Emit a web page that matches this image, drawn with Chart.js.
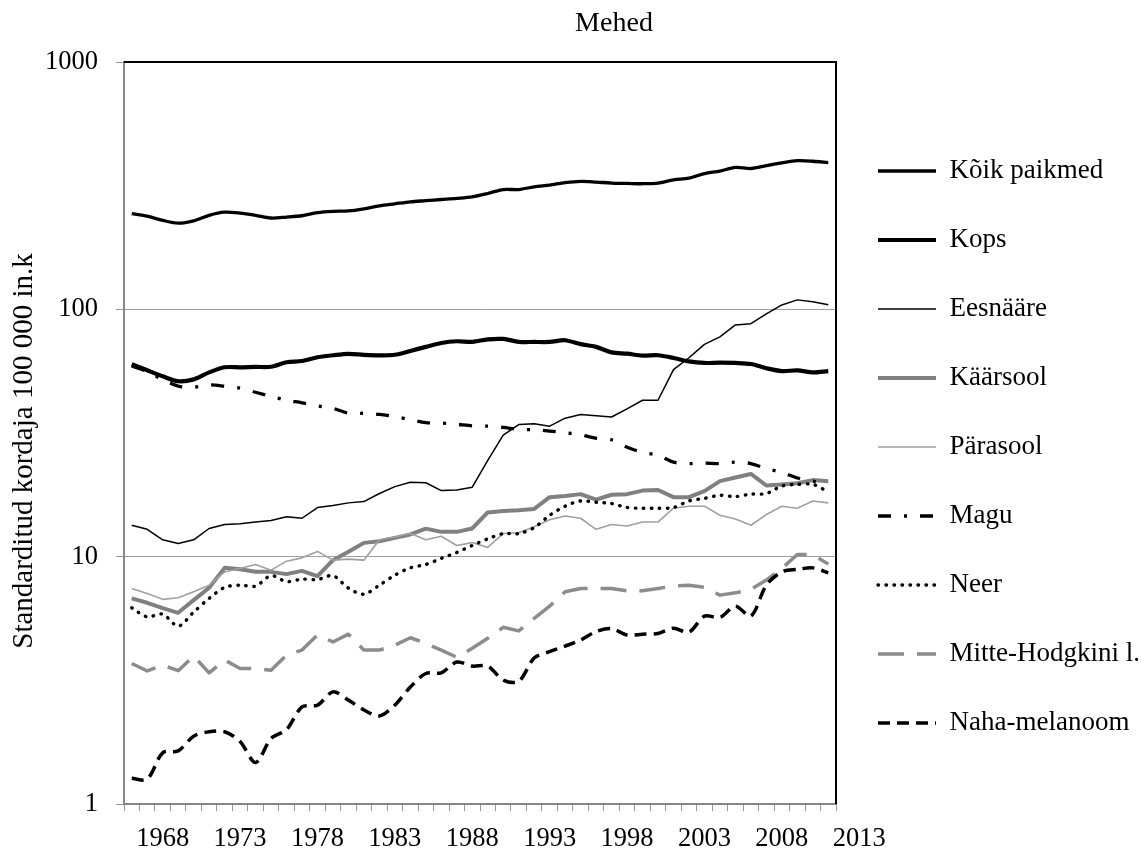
<!DOCTYPE html>
<html>
<head>
<meta charset="utf-8">
<title>Mehed</title>
<script src="https://cdn.jsdelivr.net/npm/chart.js@4/dist/chart.umd.min.js"></script>
<style>
  html, body { margin: 0; padding: 0; background: #fff; }
  canvas { display: block; }
</style>
</head>
<body>
<canvas id="cancer_chart_canvas" width="1144" height="854"></canvas>
<script>
const TITLE = 'Mehed'
const Y_TITLE = 'Standarditud kordaja 100 000 in.k'

const years = [1966, 1967, 1968, 1969, 1970, 1971, 1972, 1973, 1974, 1975,
  1976, 1977, 1978, 1979, 1980, 1981, 1982, 1983, 1984, 1985,
  1986, 1987, 1988, 1989, 1990, 1991, 1992, 1993, 1994, 1995,
  1996, 1997, 1998, 1999, 2000, 2001, 2002, 2003, 2004, 2005,
  2006, 2007, 2008, 2009, 2010, 2011]

// labels under the x axis and on the log y axis
const yearTicks = [1968, 1973, 1978, 1983, 1988, 1993, 1998, 2003, 2008, 2013]
const yTicks = [1, 10, 100, 1000]

const koik = [244, 238, 229, 223, 228, 240, 247, 245, 240, 234, 236, 239, 246, 249, 250, 255, 262, 267, 272, 275,
  278, 281, 285, 294, 305, 305, 313, 318, 325, 329, 327, 324, 323, 322, 324, 334, 339, 354, 362, 375,
  371, 381, 391, 399, 397, 392]
const kops = [60, 56.7, 53.6, 51.2, 52.1, 55.6, 58.3, 58.3, 58.5, 58.6, 61.1, 61.8, 64, 65.2, 66.1, 65.5, 65.2, 65.5, 67.9, 70.5,
  73.1, 74.3, 73.9, 75.6, 75.9, 73.9, 73.8, 73.8, 75, 72.3, 70.5, 67, 66.2, 65, 65.2, 63.6, 61.6, 60.7, 60.9, 60.7,
  60.1, 57.8, 56.3, 56.6, 55.6, 56.3]
const eesnaare = [13.4, 12.9, 11.7, 11.3, 11.7, 13.0, 13.5, 13.6, 13.8, 14.0, 14.5, 14.3, 15.8, 16.1, 16.5, 16.7, 18.0, 19.2, 20.0, 19.9,
  18.5, 18.6, 19.1, 24.5, 31, 34.2, 34.5, 33.7, 36.3, 37.6, 37.1, 36.7, 39.6, 42.9, 42.9, 57, 63.7, 72.2, 77.4, 86.5,
  87.5, 95.9, 104.2, 109.2, 107.4, 104.4]
const kaarsool = [6.78, 6.51, 6.19, 5.93, 6.67, 7.49, 9.01, 8.9, 8.69, 8.68, 8.5, 8.76, 8.34, 9.68, 10.46, 11.37, 11.55, 11.91, 12.3, 12.98,
  12.6, 12.6, 13.0, 15.1, 15.3, 15.4, 15.6, 17.4, 17.6, 17.9, 17.0, 17.8, 17.9, 18.5, 18.6, 17.4, 17.4, 18.4, 20.2, 20.9,
  21.6, 19.4, 19.6, 19.8, 20.4, 20.2]
const parasool = [7.44, 7.1, 6.72, 6.82, 7.22, 7.67, 8.68, 8.95, 9.29, 8.82, 9.59, 9.89, 10.5, 9.68, 9.77, 9.68, 11.7, 12.0, 12.4, 11.7,
  12.1, 11.1, 11.4, 10.9, 12.4, 12.5, 13.2, 14.1, 14.6, 14.3, 12.9, 13.5, 13.3, 13.8, 13.8, 15.7, 16.0, 16.0, 14.7, 14.2,
  13.4, 14.8, 16.0, 15.7, 16.8, 16.5]
const magu = [59, 56, 52, 48.9, 48.4, 49.5, 48.9, 48, 46.2, 44.5, 42.9, 41.9, 40.7, 39.8, 38, 38, 37.6, 36.8, 35.8, 34.8,
  34.7, 34.3, 33.8, 33.7, 33.3, 32.7, 32.6, 32.2, 31.7, 31.1, 30.1, 29.7, 27.7, 26.4, 25.7, 24.1, 23.8, 23.9, 23.8, 24.1,
  23.8, 22.7, 21.9, 20.8, 20.2, 19.6]
const neer = [6.21, 5.71, 5.86, 5.24, 5.97, 6.78, 7.51, 7.67, 7.6, 8.38, 7.93, 8.11, 8.08, 8.38, 7.46, 7.05, 7.67, 8.42, 9.01, 9.3,
  9.84, 10.4, 11.1, 11.8, 12.4, 12.4, 13.1, 14.7, 16.0, 16.8, 16.6, 16.4, 15.8, 15.7, 15.7, 15.8, 16.8, 17.2, 17.7, 17.5,
  17.9, 18.0, 19.3, 19.6, 19.6, 18.3]
const mitteHodgkini = [3.70, 3.45, 3.64, 3.46, 3.96, 3.39, 3.82, 3.53, 3.53, 3.47, 4.0, 4.19, 4.82, 4.52, 4.86, 4.19, 4.19, 4.39, 4.70, 4.46,
  4.19, 3.92, 4.26, 4.68, 5.18, 5.01, 5.63, 6.31, 7.21, 7.44, 7.44, 7.44, 7.28, 7.28, 7.44, 7.60, 7.67, 7.51, 6.99, 7.14,
  7.37, 8.04, 8.96, 10.2, 10.2, 9.33]
const nahaMelanoom = [1.27, 1.26, 1.61, 1.64, 1.88, 1.96, 1.96, 1.79, 1.47, 1.84, 2.0, 2.47, 2.51, 2.84, 2.63, 2.40, 2.27, 2.51, 2.97, 3.37,
  3.39, 3.75, 3.61, 3.61, 3.17, 3.13, 3.89, 4.13, 4.35, 4.60, 4.98, 5.12, 4.82, 4.86, 4.89, 5.14, 4.95, 5.75, 5.68, 6.31,
  5.75, 7.67, 8.68, 8.88, 9.01, 8.60]

const FONT = '"Liberation Serif", "Times New Roman", serif'
const GREY = 'rgb(128, 128, 128)'
const LIGHT_GREY = 'rgb(160, 160, 160)'
const AXIS_GREY = 'rgb(134, 134, 134)'

Chart.defaults.font.family = FONT
Chart.defaults.color = '#000'

function line(label, data, color, width, dash, smooth, cap) {
  return {
    label: label,
    data: data,
    borderColor: color,
    backgroundColor: color,
    borderWidth: width,
    borderDash: dash,
    borderCapStyle: cap || 'butt',
    borderJoinStyle: 'round',
    tension: smooth ? 0.3 : 0,
    pointRadius: 0,
    pointHoverRadius: 0,
    fill: false,
  }
}

let datasets = [
  line('Kõik paikmed', koik, '#000', 3.3, [], true),
  line('Kops', kops, '#000', 4.2, [], true),
  line('Eesnääre', eesnaare, '#000', 1.5, [], false),
  line('Käärsool', kaarsool, GREY, 4, [], false),
  line('Pärasool', parasool, LIGHT_GREY, 1.6, [], false),
  line('Magu', magu, '#000', 3.3, [13, 13, 3, 13], true),
  line('Neer', neer, '#000', 3.4, [0.5, 7.5], true, 'round'),
  line('Mitte-Hodgkini l.', mitteHodgkini, 'rgb(140, 140, 140)', 3.5, [26, 13], false),
  line('Naha-melanoom', nahaMelanoom, '#000', 3.5, [12, 7], true),
]
// first series at the bottom, like the spreadsheet did it
datasets.forEach((d, i) => { d.order = datasets.length - i })

// legend with line samples, same dash as the series
function legend_labels(chart) {
  return chart.data.datasets.map((d, i) => ({
    text: d.label,
    fillStyle: d.borderColor,
    strokeStyle: d.borderColor,
    fontColor: '#000',
    lineWidth: d.borderWidth,
    lineDash: d.borderDash,
    lineCap: d.borderCapStyle,
    pointStyle: 'line',
    hidden: false,
    datasetIndex: i,
  }))
}

// frame, year labels, titles
const extras = {
  id: 'extras',
  afterDraw(chart) {
    const { ctx, chartArea: a, scales } = chart
    ctx.save()
    ctx.strokeStyle = '#000'
    ctx.lineWidth = 2
    ctx.beginPath()
    ctx.moveTo(a.left, a.top)
    ctx.lineTo(a.right, a.top)
    ctx.lineTo(a.right, a.bottom)
    ctx.stroke()

    ctx.fillStyle = '#000'
    ctx.textAlign = 'center'
    ctx.textBaseline = 'middle'
    ctx.font = '26.5px ' + FONT
    yearTicks.forEach((yr) => {
      ctx.fillText(String(yr), scales.x.getPixelForValue(yr), a.bottom + 35)
    })

    ctx.font = '28px ' + FONT
    ctx.fillText(TITLE, 614, 24)

    ctx.translate(24, 451)
    ctx.rotate(-Math.PI / 2)
    ctx.font = '29px ' + FONT
    ctx.fillText(Y_TITLE, 0, 0)
    ctx.restore()
  },
}

const config = {
  type: 'line',
  data: {
    labels: years,
    datasets: datasets,
  },
  options: {
    responsive: false,
    animation: false,
    devicePixelRatio: 1,
    layout: { padding: { top: 62, bottom: 22, left: 0, right: -6 } },
    scales: {
      x: {
        type: 'linear',
        min: years[0] - 0.5,
        max: years[years.length - 1] + 0.5,
        afterBuildTicks: (s) => {
          let t = years.map((y) => ({ value: y - 0.5 }))
          t.push({ value: years[years.length - 1] + 0.5 })
          s.ticks = t
        },
        afterFit: (s) => { s.height = 28 },
        ticks: { display: false },
        grid: { drawOnChartArea: false, tickLength: 7, color: 'rgb(150, 150, 150)' },
        border: { color: AXIS_GREY, width: 2 },
      },
      y: {
        type: 'logarithmic',
        min: 1,
        max: 1000,
        afterBuildTicks: (s) => {
          s.ticks = yTicks.map((v) => ({ value: v, major: true }))
        },
        afterFit: (s) => { s.width = 124 },
        ticks: {
          callback: (v) => String(v),
          font: { size: 26.5 },
          color: '#000',
          padding: 18,
          autoSkip: false,
        },
        grid: { color: 'rgb(160, 160, 160)', lineWidth: 1, tickLength: 8, tickColor: 'rgb(150, 150, 150)' },
        border: { color: AXIS_GREY, width: 2 },
      },
    },
    plugins: {
      title: { display: false },
      tooltip: { enabled: false },
      legend: {
        position: 'right',
        align: 'center',
        maxWidth: 400,
        labels: {
          font: { size: 27 },
          color: '#000',
          padding: 42,
          usePointStyle: true,
          pointStyleWidth: 58,
          generateLabels: legend_labels,
        },
      },
    },
  },
  plugins: [extras],
}

let cancer_chart = new Chart(document.getElementById('cancer_chart_canvas'), config)
</script>
</body>
</html>
